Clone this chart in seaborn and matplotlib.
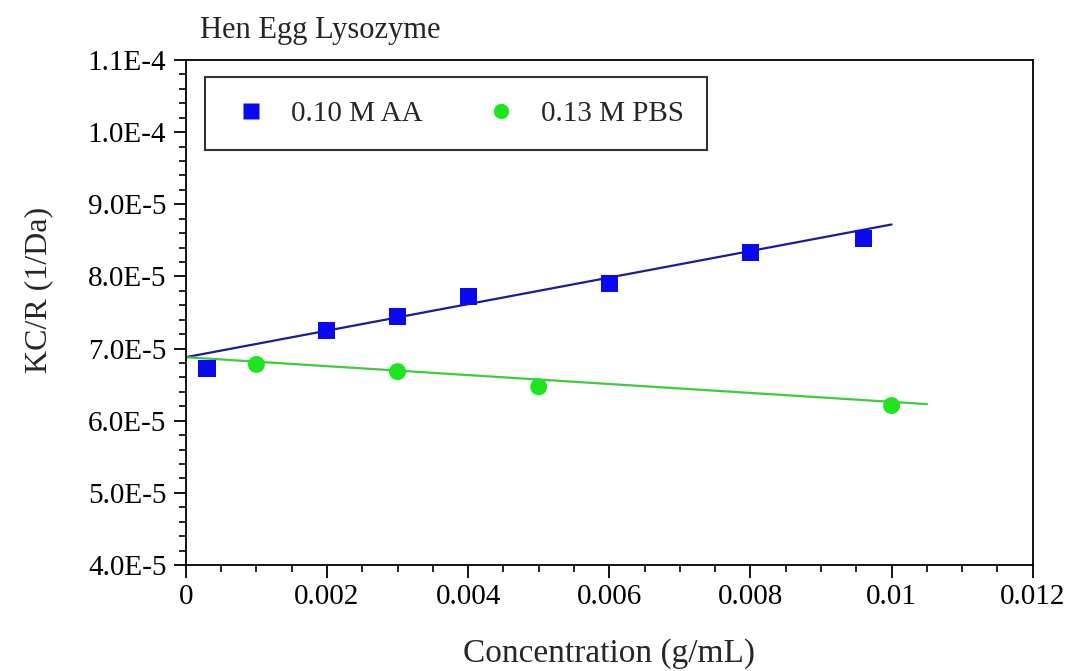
import numpy as np
import pandas as pd
import matplotlib
matplotlib.use("Agg")
import matplotlib.pyplot as plt
import seaborn as sns
from matplotlib.ticker import MultipleLocator

# Measured KC/R values for hen egg lysozyme in two buffers
aa_conc = [0.0003, 0.002, 0.003, 0.004, 0.006, 0.008, 0.0096]
aa_kcr = [6.72e-5, 7.25e-5, 7.45e-5, 7.72e-5, 7.90e-5, 8.33e-5, 8.52e-5]
pbs_conc = [0.001, 0.003, 0.005, 0.010]
pbs_kcr = [6.78e-5, 6.68e-5, 6.47e-5, 6.21e-5]

# Linear fits (start/end of each fitted line)
aa_fit_x = [0.0, 0.0100]
aa_fit_y = [6.88e-5, 8.72e-5]
pbs_fit_x = [0.0, 0.0105]
pbs_fit_y = [6.88e-5, 6.23e-5]

series_names = ["0.10 M AA", "0.13 M PBS"]
x_tick_values = [0, 0.002, 0.004, 0.006, 0.008, 0.010, 0.012]
x_tick_labels = ["0", "0.002", "0.004", "0.006", "0.008", "0.01", "0.012"]
y_tick_values = [4.0e-5, 5.0e-5, 6.0e-5, 7.0e-5, 8.0e-5, 9.0e-5, 1.0e-4, 1.1e-4]
y_tick_labels = ["4.0E-5", "5.0E-5", "6.0E-5", "7.0E-5", "8.0E-5", "9.0E-5", "1.0E-4", "1.1E-4"]

points = pd.DataFrame({
    "conc": aa_conc + pbs_conc,
    "kcr": aa_kcr + pbs_kcr,
    "buffer": [series_names[0]] * len(aa_conc) + [series_names[1]] * len(pbs_conc),
})
fits = pd.DataFrame({
    "conc": aa_fit_x + pbs_fit_x,
    "kcr": aa_fit_y + pbs_fit_y,
    "buffer": [series_names[0]] * 2 + [series_names[1]] * 2,
})

sns.set_style("white")
plt.rcParams["font.family"] = ["Liberation Serif", "DejaVu Serif"]

marker_colors = {series_names[0]: "#0a0af0", series_names[1]: "#1ee61e"}
line_colors = {series_names[0]: "#1c1c96", series_names[1]: "#3ccc3c"}

fig = plt.figure(figsize=(10.68, 6.71), dpi=100)
ax = fig.add_axes([0.174, 0.158, 0.793, 0.7526])

sns.lineplot(data=fits, x="conc", y="kcr", hue="buffer", palette=line_colors,
             linewidth=1.6, legend=False, ax=ax)
sns.scatterplot(data=points, x="conc", y="kcr", hue="buffer", style="buffer",
                markers={series_names[0]: "s", series_names[1]: "o"},
                palette=marker_colors, s=150, edgecolor="none", ax=ax, zorder=3)

ax.set_xlim(0, 0.012)
ax.set_ylim(4.0e-5, 1.1e-4)
ax.set_xticks(x_tick_values)
ax.set_xticklabels(x_tick_labels)
ax.set_yticks(y_tick_values)
ax.set_yticklabels(y_tick_labels)
ax.xaxis.set_minor_locator(MultipleLocator(0.0005))
ax.yaxis.set_minor_locator(MultipleLocator(2e-6))

ax.tick_params(axis="both", which="major", direction="out", length=9, width=1.3,
               colors="black", labelsize=21, pad=5)
ax.tick_params(axis="both", which="minor", direction="out", length=5, width=1.2,
               colors="black")
ax.tick_params(bottom=True, left=True, top=False, right=False, which="both")

for spine in ax.spines.values():
    spine.set_visible(True)
    spine.set_color("black")
    spine.set_linewidth(1.3)

ax.set_xlabel("Concentration (g/mL)", fontsize=24)
ax.xaxis.set_label_coords(0.50, -0.145)
ax.set_ylabel("KC/R (1/Da)", fontsize=23)
ax.yaxis.set_label_coords(-0.157, 0.545)
fig.text(0.187, 0.955, "Hen Egg Lysozyme", fontsize=22, ha="left", va="center")

handles, labels = ax.get_legend_handles_labels()
leg = ax.legend(handles, labels, loc="upper left", bbox_to_anchor=(0.0224, 0.966),
                borderaxespad=0, ncol=2, fontsize=21, frameon=True, fancybox=False,
                edgecolor="black", handlelength=1.6, handletextpad=0.55,
                columnspacing=1.9, borderpad=0.8, markerscale=0.9)
leg.get_frame().set_linewidth(1.5)

fig.savefig("out.png", dpi=100, facecolor="white")
